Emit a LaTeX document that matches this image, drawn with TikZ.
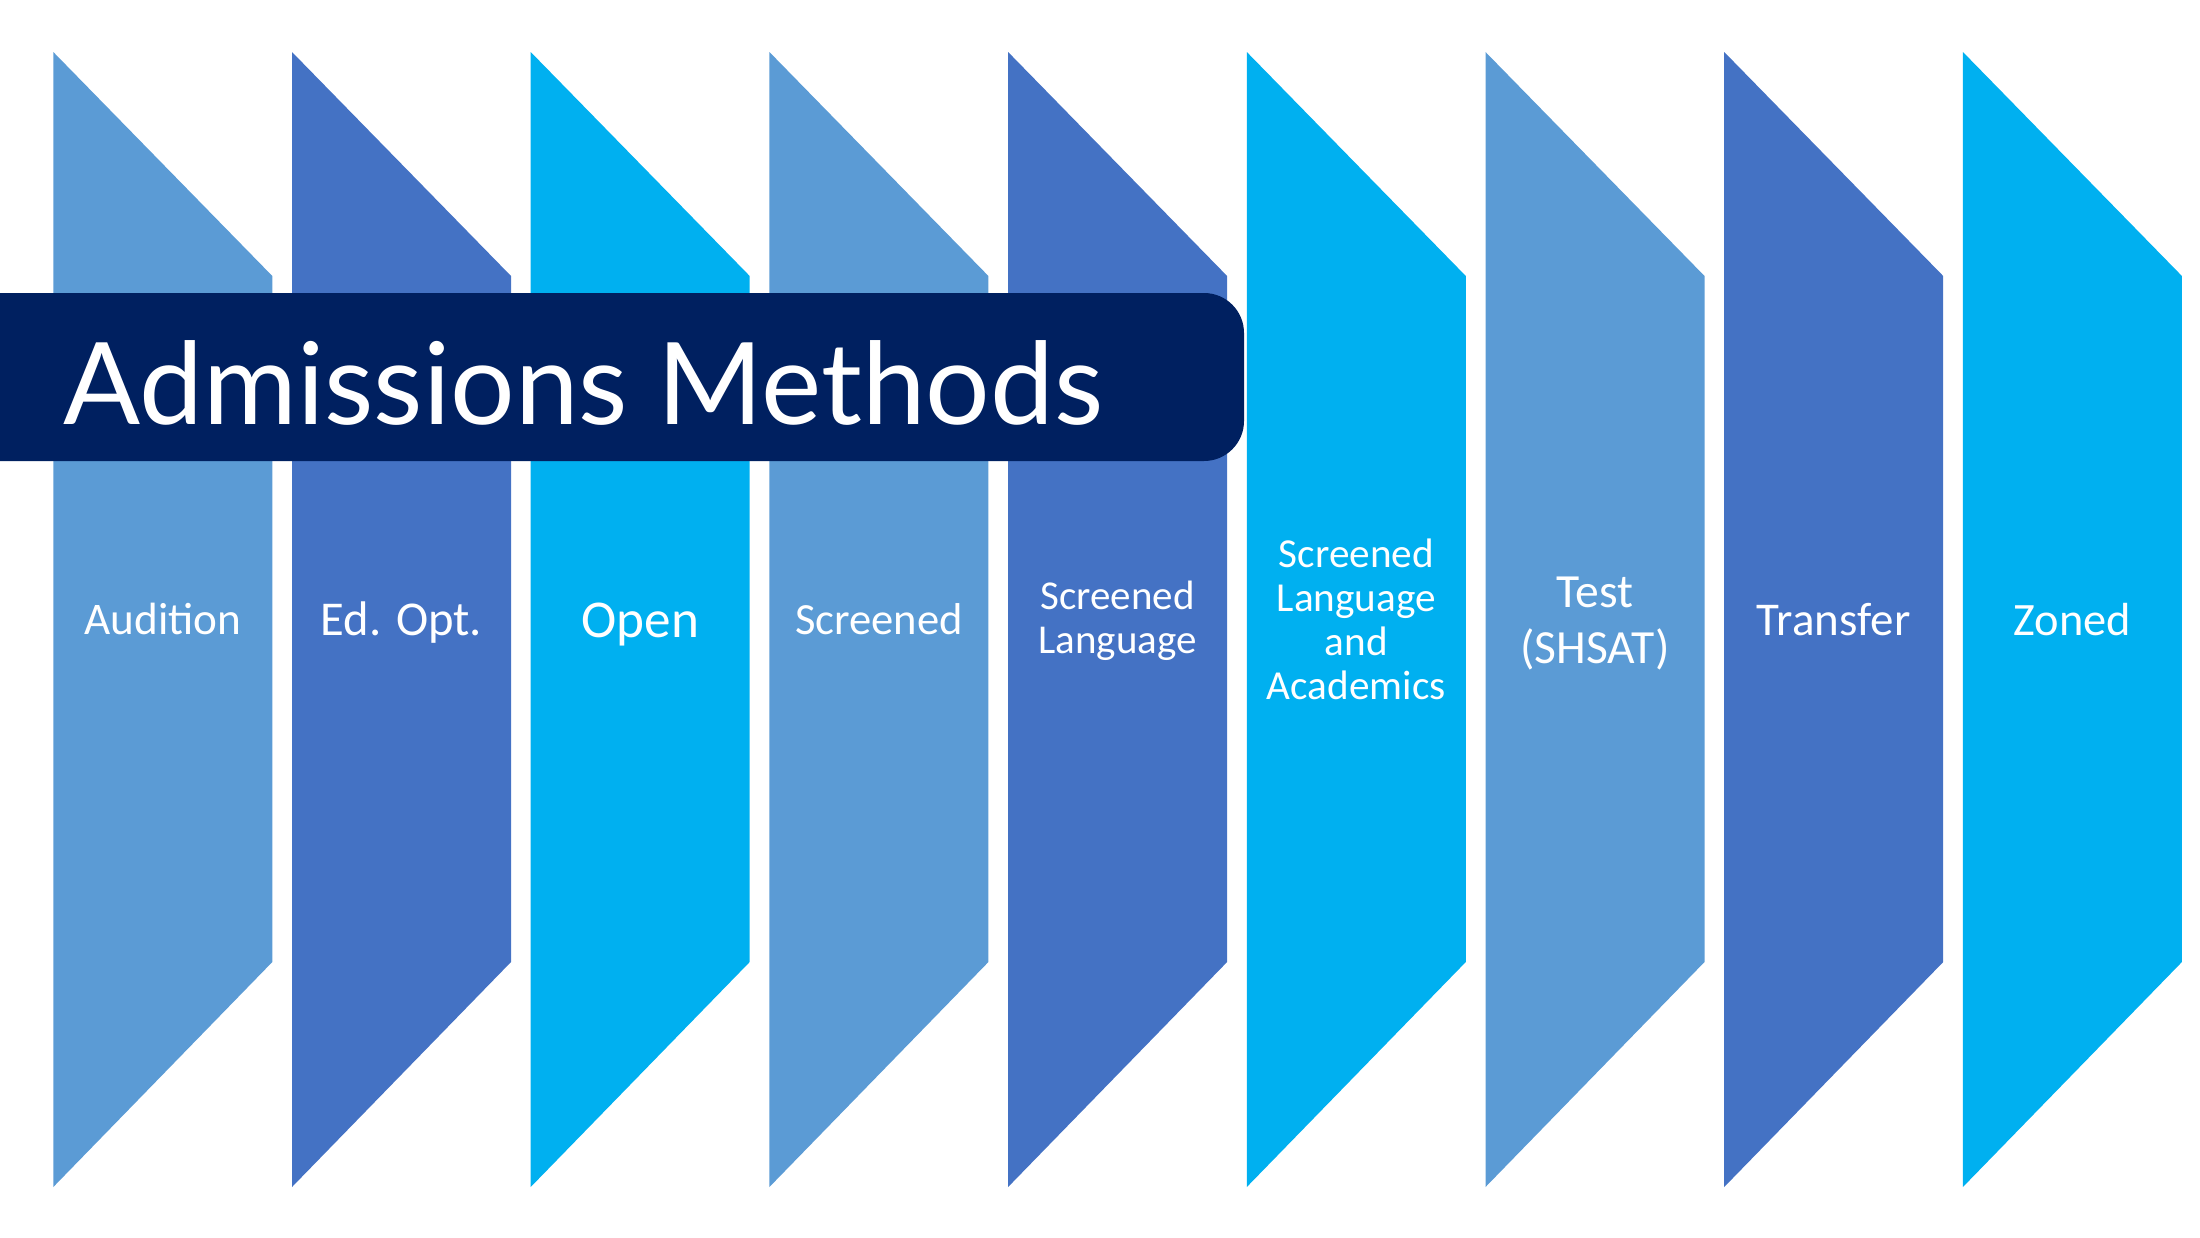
\documentclass[tikz,border=0pt]{standalone}
\usepackage{fontspec}
\setmainfont{Carlito}
\newfontfamily\titlefont{Lato}
\definecolor{cA}{HTML}{5B9BD5}
\definecolor{cB}{HTML}{4472C4}
\definecolor{cC}{HTML}{00B0F0}
\definecolor{navy}{HTML}{002060}
\begin{document}
\begin{tikzpicture}[x=0.5pt,y=-0.5pt,
  lbl/.style={text=white, align=center, inner sep=0pt},
  one/.style={lbl, anchor=base},
  chev/.style={fill=#1, draw=none}]
\useasboundingbox (0,0) rectangle (2200,1237);
\foreach \i/\c in {0/cA,1/cB,2/cC,3/cA,4/cB,5/cC,6/cA,7/cB,8/cC}{
  \pgfmathsetmacro\L{53.3+\i*238.7}
  \pgfmathsetmacro\R{\L+219}
  \fill[chev=\c] (\L,52) -- (\R,276) -- (\R,962) -- (\L,1187) -- cycle;
}
\fill[navy] (-20,293) [rounded corners=20] -- (1244,293) -- (1244,461) [sharp corners] -- (-20,461) -- cycle;
\node[anchor=base west, text=white, inner sep=0pt, font=\titlefont\fontsize{57}{60}\selectfont] (title) at (63,424) {Admissions Methods};

\node[one, font=\fontsize{22.6}{27}\selectfont] (audition) at (162.8,634) {Audition};
\node[one, font=\fontsize{24.3}{29}\selectfont] (edopt) at (401.5,635) {Ed. Opt.};
\node[one, font=\fontsize{26.6}{32}\selectfont] (open) at (640.2,637) {Open};
\node[one, font=\fontsize{22.3}{27}\selectfont] (screened) at (878.9,634) {Screened};
\node[lbl, font=\fontsize{20.5}{21.75}\selectfont] (sl) at (1117.6,621) {Screened\\Language};
\node[lbl, font=\fontsize{20.6}{22}\selectfont] (sla) at (1356.3,619) {Screened\\Language\\and\\Academics};
\node[lbl, font=\fontsize{23.8}{28}\selectfont] (test) at (1595.0,624) {Test\\(SHSAT)};
\node[one, font=\fontsize{23.5}{28}\selectfont] (transfer) at (1833.7,635) {Transfer};
\node[one, font=\fontsize{23.2}{28}\selectfont] (zoned) at (2072.4,635) {Zoned};
\end{tikzpicture}
\end{document}
